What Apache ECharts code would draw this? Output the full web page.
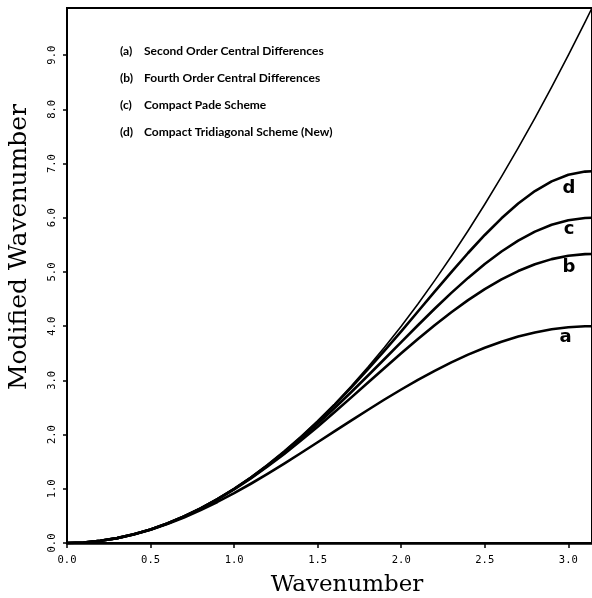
<!DOCTYPE html>
<html>
<head>
<meta charset="utf-8">
<script src="https://cdn.jsdelivr.net/npm/echarts@6/dist/echarts.min.js"></script>
<style>html,body{margin:0;padding:0;background:#fff;}#c{width:592px;height:598px;}</style>
</head>
<body>
<div id="c"></div>
<script>
// Wavenumber (x) samples
var wavenumber = [0, 0.1, 0.2, 0.3, 0.4, 0.5, 0.6, 0.7, 0.8, 0.9, 1.0, 1.1, 1.2, 1.3, 1.4, 1.5, 1.6, 1.7, 1.8, 1.9, 2.0, 2.1, 2.2, 2.3, 2.4, 2.5, 2.6, 2.7, 2.8, 2.9, 3.0, 3.1, 3.1416];
// Exact (thin line)
var exact = [0, 0.01, 0.04, 0.09, 0.16, 0.25, 0.36, 0.49, 0.64, 0.81, 1.0, 1.21, 1.44, 1.69, 1.96, 2.25, 2.56, 2.89, 3.24, 3.61, 4.0, 4.41, 4.84, 5.29, 5.76, 6.25, 6.76, 7.29, 7.84, 8.41, 9.0, 9.61, 9.87];
// (a) Second order central differences
var seriesA = [0, 0.010, 0.040, 0.089, 0.158, 0.245, 0.349, 0.470, 0.607, 0.757, 0.919, 1.093, 1.275, 1.465, 1.660, 1.859, 2.058, 2.258, 2.454, 2.647, 2.832, 3.010, 3.177, 3.333, 3.475, 3.602, 3.714, 3.808, 3.884, 3.942, 3.980, 3.998, 4.000];
// (b) Fourth order central differences
var seriesB = [0, 0.010, 0.040, 0.090, 0.160, 0.250, 0.360, 0.489, 0.637, 0.805, 0.990, 1.192, 1.411, 1.644, 1.890, 2.146, 2.411, 2.682, 2.956, 3.230, 3.501, 3.765, 4.018, 4.258, 4.481, 4.684, 4.863, 5.017, 5.142, 5.237, 5.300, 5.330, 5.333];
// (c) Compact Pade scheme
var seriesC = [0, 0.010, 0.040, 0.090, 0.160, 0.250, 0.360, 0.490, 0.639, 0.808, 0.996, 1.202, 1.427, 1.669, 1.927, 2.199, 2.485, 2.781, 3.085, 3.395, 3.707, 4.017, 4.321, 4.614, 4.891, 5.148, 5.378, 5.578, 5.744, 5.870, 5.955, 5.996, 6.000];
// (d) Compact tridiagonal scheme (new)
var seriesD = [0, 0.010, 0.040, 0.090, 0.160, 0.250, 0.360, 0.490, 0.640, 0.810, 1.000, 1.209, 1.439, 1.687, 1.955, 2.241, 2.545, 2.865, 3.201, 3.549, 3.906, 4.271, 4.636, 4.998, 5.350, 5.683, 5.990, 6.263, 6.493, 6.671, 6.793, 6.852, 6.857];

var seriesKeys = ['a', 'b', 'c', 'd'];
var seriesNames = ['Second Order Central Differences', 'Fourth Order Central Differences', 'Compact Pade Scheme', 'Compact Tridiagonal Scheme (New)'];
var seriesValues = [seriesA, seriesB, seriesC, seriesD];
// curve tag positions (data coords)
var tagX = [2.984, 3.004, 3.004, 3.004];
var tagY = [3.79, 5.08, 5.78, 6.55];

var xTicks = [0, 0.5, 1.0, 1.5, 2.0, 2.5, 3.0];
var yTicks = [0, 1, 2, 3, 4, 5, 6, 7, 8, 9];

function pairs(ys) { return wavenumber.map(function (x, i) { return [x, ys[i]]; }); }

var series = [{
  name: 'Exact', type: 'line', data: pairs(exact), symbol: 'none', smooth: false,
  lineStyle: { color: '#000', width: 1.6, join: 'round' }, z: 3
}];
seriesKeys.forEach(function (k, i) {
  series.push({
    name: k, type: 'line', data: pairs(seriesValues[i]), symbol: 'none', smooth: false,
    lineStyle: { color: '#000', width: 2.6, join: 'round' },
    itemStyle: { color: '#000' },
    markPoint: {
      symbol: 'circle', symbolSize: 0, silent: true,
      data: [{ coord: [tagX[i], tagY[i]], value: k }],
      label: { show: true, position: 'inside', formatter: k, color: '#000',
        fontFamily: 'DejaVu Sans', fontSize: 18, fontWeight: 'bold' }
    }
  });
});

var chart = echarts.init(document.getElementById('c'), null, { renderer: 'canvas' });
chart.setOption({
  animation: false,
  backgroundColor: '#fff',
  grid: { left: 67, right: -3, top: 8, bottom: 55, show: true, borderColor: '#000', borderWidth: 2, backgroundColor: 'transparent' },
  xAxis: {
    type: 'value', min: 0, max: 3.1416,
    splitLine: { show: false },
    axisLine: { show: true, lineStyle: { color: '#000', width: 2.5 } },
    axisTick: { show: true, inside: false, length: 5, customValues: xTicks, lineStyle: { color: '#000', width: 1.5 } },
    axisLabel: { customValues: xTicks, margin: 12, color: '#000', fontFamily: 'DejaVu Sans Mono', fontSize: 10.5,
      formatter: function (v) { return v.toFixed(1); } }
  },
  yAxis: {
    type: 'value', min: 0, max: 9.87,
    splitLine: { show: false },
    axisLine: { show: true, lineStyle: { color: '#000', width: 2 } },
    axisTick: { show: true, inside: false, length: 4, customValues: yTicks, lineStyle: { color: '#000', width: 1.5 } },
    axisLabel: { customValues: yTicks, rotate: 90, margin: 9, color: '#000', fontFamily: 'DejaVu Sans Mono', fontSize: 10.5,
      formatter: function (v) { return v.toFixed(1); } }
  },
  legend: {
    data: seriesKeys, orient: 'vertical', left: 110, top: 39,
    icon: 'none', itemWidth: 0, itemHeight: 14, itemGap: 14,
    selectedMode: false,
    formatter: function (name) {
      var i = seriesKeys.indexOf(name);
      return '{k|(' + name + ')}{t|' + seriesNames[i] + '}';
    },
    textStyle: {
      color: '#000', fontFamily: 'Lato', fontWeight: 'bold', fontSize: 12,
      rich: {
        k: { width: 24, lineHeight: 14, fontFamily: 'Lato', fontWeight: 'bold', fontSize: 12, color: '#000' },
        t: { lineHeight: 14, fontFamily: 'Lato', fontWeight: 'bold', fontSize: 12, color: '#000' }
      }
    }
  },
  graphic: [
    { type: 'text', x: 347, y: 585, silent: true,
      style: { text: 'Wavenumber', fill: '#000', font: '23px "DejaVu Serif"', textAlign: 'center', textVerticalAlign: 'middle' } },
    { type: 'text', x: 19, y: 247, rotation: Math.PI / 2, silent: true,
      style: { text: 'Modified Wavenumber', fill: '#000', font: '25px "DejaVu Serif"', textAlign: 'center', textVerticalAlign: 'middle' } }
  ],
  series: series
});
</script>
</body>
</html>
